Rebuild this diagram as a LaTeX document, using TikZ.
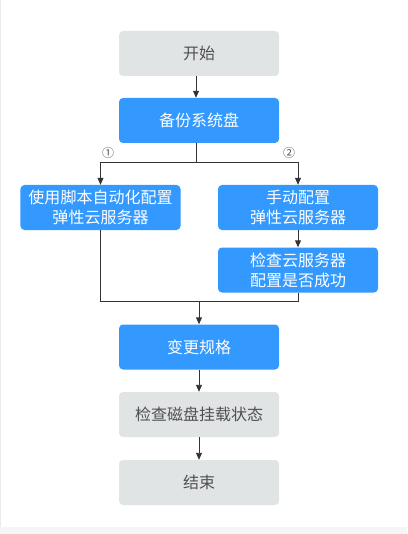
\documentclass[tikz,border=0pt]{standalone}
\usepackage{fontspec}
\setmainfont{Noto Sans CJK SC}
\usetikzlibrary{arrows.meta}
\definecolor{bluebox}{HTML}{3399FF}
\definecolor{greybox}{HTML}{E1E4E5}
\definecolor{greytext}{HTML}{505050}
\definecolor{linec}{HTML}{333333}
\tikzset{
  box/.style={rounded corners=4bp, minimum width=160bp, minimum height=45bp, inner sep=0pt, align=center, font=\fontsize{16bp}{20bp}\selectfont},
  bluestep/.style={box, fill=bluebox, text=white},
  greystep/.style={box, fill=greybox, text=greytext},
  conn/.style={draw=linec, line width=0.9bp},
  arr/.style={conn, -{Triangle[length=7bp,width=6bp]}},
}
\begin{document}
\begin{tikzpicture}[x=1bp,y=-1bp]
\useasboundingbox (0,0) rectangle (407,534);
\fill[white] (0,0) rectangle (407,534);
\fill[black!4] (0,527) rectangle (407,534);
\draw[black!8, line width=0.6bp] (0.3,0) -- (0.3,527);
\node[greystep] (start) at (199,53.5) {开始};
\node[bluestep] (backup) at (199,120.5) {备份系统盘};
\node[bluestep] (auto) at (100.5,207.5) {使用脚本自动化配置\\弹性云服务器};
\node[bluestep] (manual) at (298,207.5) {手动配置\\弹性云服务器};
\node[bluestep] (check) at (298,270) {检查云服务器\\配置是否成功};
\node[bluestep] (change) at (199,347) {变更规格};
\node[greystep] (disk) at (199,414.5) {检查磁盘挂载状态};
\node[greystep] (finish) at (199,482.5) {结束};
\coordinate (split) at (196,162);
\coordinate (merge) at (199,301);
\draw[arr] (start.south -| 196,0) -- (backup.north -| 196,0);
\draw[conn] (backup.south -| split) -- (split);
\draw[arr] (split) -| (auto.north);
\draw[arr] (split) -| (manual.north);
\node[font=\fontsize{12bp}{12bp}\selectfont, text=greytext] (l1) at (108,153) {①};
\node[font=\fontsize{12bp}{12bp}\selectfont, text=greytext] (l2) at (289,153) {②};
\draw[arr] (manual) -- (check);
\draw[conn] (auto.south) |- (merge);
\draw[conn] (check.south) |- (merge);
\draw[arr] (merge) -- (change.north);
\draw[arr] (change) -- (disk);
\draw[arr] (disk) -- (finish);
\end{tikzpicture}
\end{document}
